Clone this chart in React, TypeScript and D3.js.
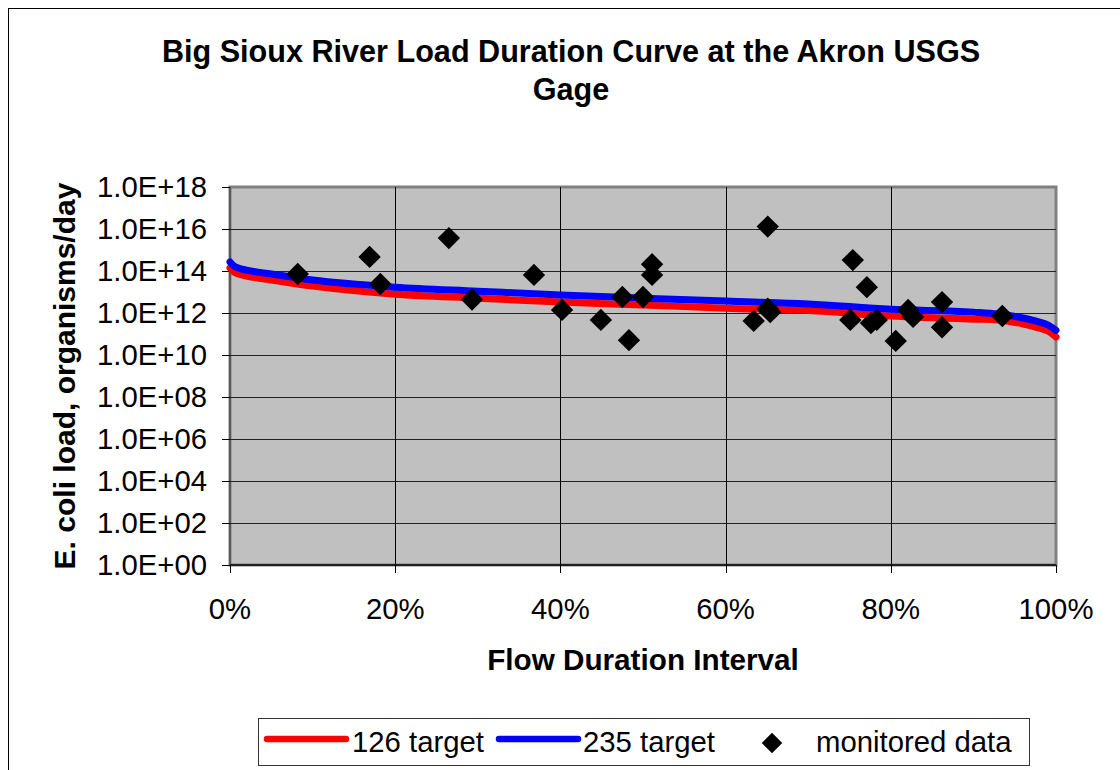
import React from "react";
import * as d3 from "d3";

// Flow duration interval (fraction) for target curves
const curvePct: number[] = [0, 0.005, 0.01, 0.02, 0.05, 0.1, 0.2, 0.3, 0.4, 0.5, 0.6, 0.7, 0.8, 0.9, 0.93, 0.96, 0.98, 0.99, 1.0];
// 126 target load (organisms/day)
const target126: number[] = [1.4e14, 8.9e13, 7.2e13, 5.8e13, 3.7e13, 1.9e13, 7.9e12, 5.1e12, 3.3e12, 2.4e12, 1.7e12, 1.3e12, 7.2e11, 5.1e11, 4.7e11, 3.0e11, 1.9e11, 1.4e11, 7.2e10];
// 235 target load (organisms/day)
const target235: number[] = [2.7e14, 1.7e14, 1.4e14, 1.1e14, 7.2e13, 3.7e13, 1.7e13, 1.1e13, 7.2e12, 5.1e12, 3.7e12, 2.7e12, 1.5e12, 1.1e12, 8.9e11, 5.8e11, 3.7e11, 2.7e11, 1.5e11];

// Monitored data
const monitoredPct: number[] = [0.082, 0.169, 0.182, 0.265, 0.293, 0.368, 0.402, 0.449, 0.475, 0.483, 0.5, 0.511, 0.511, 0.634, 0.651, 0.654, 0.651, 0.754, 0.771, 0.751, 0.776, 0.783, 0.806, 0.821, 0.827, 0.862, 0.862, 0.935];
const monitoredLoad: number[] = [7.2e13, 4.7e14, 2.4e13, 3.7e15, 4.4e12, 6.5e13, 1.4e12, 4.7e11, 5.8e12, 5.1e10, 5.8e12, 2.1e14, 6.5e13, 4.2e11, 1.6e12, 1.1e12, 1.3e16, 3.3e14, 1.7e13, 4.7e11, 3.3e11, 4.7e11, 4.7e10, 1.4e12, 6.5e11, 3.3e12, 2.1e11, 7.2e11];

const yTicks: number[] = [1e0, 1e2, 1e4, 1e6, 1e8, 1e10, 1e12, 1e14, 1e16, 1e18];
const xTicks: number[] = [0, 0.2, 0.4, 0.6, 0.8, 1.0];

const titleLines: string[] = ["Big Sioux River Load Duration Curve at the Akron USGS", "Gage"];
const xTitle = "Flow Duration Interval";
const yTitle = "E. coli load, organisms/day";
const seriesNames: string[] = ["126 target", "235 target", "monitored data"];

const FONT = "'Liberation Sans', Arial, sans-serif";

function fmtExp(v: number): string {
  const e = Math.round(Math.log10(v));
  return "1.0E+" + String(e).padStart(2, "0");
}

export default function App() {
  const L = 230, R = 1056, T = 187, B = 565;
  const x = d3.scaleLinear().domain([0, 1]).range([L, R]);
  const y = d3.scaleLog().domain([1, 1e18]).range([B, T]);

  const line = d3
    .line<[number, number]>()
    .x((d) => x(d[0]))
    .y((d) => y(d[1]))
    .curve(d3.curveMonotoneX);

  const redPath = line(curvePct.map((p, i) => [p, target126[i]] as [number, number])) || "";
  const bluePath = line(curvePct.map((p, i) => [p, target235[i]] as [number, number])) || "";

  const diamond = d3.symbol().type(d3.symbolSquare).size(250)() || "";
  const legendDiamond = d3.symbol().type(d3.symbolSquare).size(210)() || "";

  const pctFmt = d3.format(".0%");

  return (
    <div style={{ position: "fixed", left: 0, top: 0, width: 1120, height: 770, overflow: "hidden", background: "#fff" }}>
      <svg width={1120} height={770} style={{ display: "block" }} fontFamily={FONT}>
        <rect x={0} y={0} width={1120} height={770} fill="#fff" />
        {/* chart area border */}
        <rect x={8.5} y={8.5} width={1200} height={1200} fill="#fff" stroke="#000" strokeWidth={1} />

        {/* title */}
        {titleLines.map((t, i) => (
          <text key={i} x={571} y={62 + i * 38} textAnchor="middle" fontSize={30.6} fontWeight="bold" fill="#000">
            {t}
          </text>
        ))}

        {/* plot area */}
        <rect x={L} y={T} width={R - L} height={B - T} fill="#C0C0C0" stroke="#808080" strokeWidth={3} />

        {/* horizontal gridlines */}
        {yTicks.filter((t) => t > 1 && t < 1e18).map((t) => (
          <line key={"hg" + t} x1={L} x2={R} y1={Math.round(y(t)) + 0.5} y2={Math.round(y(t)) + 0.5} stroke="#222" strokeWidth={1} />
        ))}
        {/* vertical gridlines */}
        {xTicks.filter((t) => t > 0 && t < 1).map((t) => (
          <line key={"vg" + t} x1={Math.round(x(t)) + 0.5} x2={Math.round(x(t)) + 0.5} y1={T} y2={B} stroke="#000" strokeWidth={1} />
        ))}

        {/* axes */}
        <line x1={L} x2={L} y1={T} y2={B} stroke="#333" strokeWidth={1} />
        <line x1={L} x2={R} y1={B} y2={B} stroke="#000" strokeWidth={1.5} />

        {/* y ticks and labels */}
        {yTicks.map((t) => (
          <g key={"yt" + t}>
            <line x1={L - 8} x2={L} y1={Math.round(y(t)) + 0.5} y2={Math.round(y(t)) + 0.5} stroke="#000" strokeWidth={1} />
            <text x={207} y={y(t) + 10} textAnchor="end" fontSize={29.3} fill="#000">
              {fmtExp(t)}
            </text>
          </g>
        ))}

        {/* x ticks and labels */}
        {xTicks.map((t) => (
          <g key={"xt" + t}>
            <line x1={Math.round(x(t)) + 0.5} x2={Math.round(x(t)) + 0.5} y1={B} y2={B + 8} stroke="#000" strokeWidth={1} />
            <text x={x(t)} y={619} textAnchor="middle" fontSize={29.3} fill="#000">
              {pctFmt(t)}
            </text>
          </g>
        ))}

        {/* axis titles */}
        <text x={(L + R) / 2} y={670} textAnchor="middle" fontSize={29.7} fontWeight="bold" fill="#000">
          {xTitle}
        </text>
        <text transform={`translate(75,${(T + B) / 2}) rotate(-90)`} textAnchor="middle" fontSize={30} fontWeight="bold" fill="#000">
          {yTitle}
        </text>

        {/* series */}
        <path d={redPath} fill="none" stroke="#FF0000" strokeWidth={7} strokeLinecap="round" strokeLinejoin="round" />
        <path d={bluePath} fill="none" stroke="#0000FF" strokeWidth={7} strokeLinecap="round" strokeLinejoin="round" />
        {monitoredPct.map((p, i) => (
          <path key={"m" + i} d={diamond} transform={`translate(${x(p)},${y(monitoredLoad[i])}) rotate(45)`} fill="#000" />
        ))}

        {/* legend */}
        <rect x={258.5} y={718.5} width={771} height={47} fill="#fff" stroke="#333" strokeWidth={1} />
        <line x1={267} x2={346} y1={739} y2={739} stroke="#FF0000" strokeWidth={6.5} strokeLinecap="round" />
        <text x={352} y={752} fontSize={29.3} fill="#000">{seriesNames[0]}</text>
        <line x1={499} x2={578} y1={739} y2={739} stroke="#0000FF" strokeWidth={6.5} strokeLinecap="round" />
        <text x={583} y={752} fontSize={29.3} fill="#000">{seriesNames[1]}</text>
        <path d={legendDiamond} transform="translate(772,743) rotate(45)" fill="#000" />
        <text x={816} y={752} fontSize={29.3} fill="#000">{seriesNames[2]}</text>
      </svg>
    </div>
  );
}
